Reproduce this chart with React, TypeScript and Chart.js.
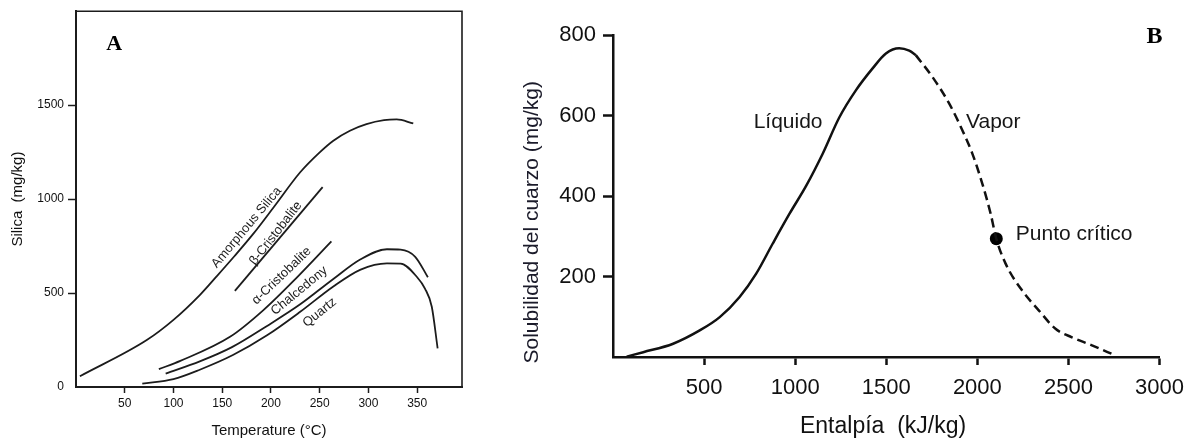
import React, { useEffect, useRef } from 'react';
import { Chart, registerables } from 'chart.js';

Chart.register(...registerables);

// ---------- Panel A data (Temperature °C vs Silica mg/kg) ----------
const tempTicks = [50, 100, 150, 200, 250, 300, 350];
const silicaTicks = [0, 500, 1000, 1500];

const amorphousT = [4, 73, 100, 127, 144, 162, 182, 203, 230, 250, 264, 281, 298, 316, 329, 346];
const amorphousSi = [57, 251, 357, 489, 587, 693, 816, 958, 1143, 1249, 1311, 1364, 1399, 1420, 1424, 1403];

const betaT = [163, 253];
const betaSi = [512, 1064];

const alphaT = [85, 107, 158, 192, 227, 262];
const alphaSi = [95, 139, 267, 408, 585, 775];

const chalcT = [92, 127, 160, 196, 230, 264, 292, 319, 333, 348, 361];
const chalcSi = [71, 136, 212, 325, 440, 575, 680, 733, 731, 693, 584];

const quartzT = [68, 100, 127, 161, 196, 230, 264, 292, 319, 333, 350, 358, 365, 371];
const quartzSi = [18, 42, 92, 170, 275, 400, 535, 625, 658, 657, 584, 524, 427, 206];

const curveNamesA = ['Amorphous Silica', 'β-Cristobalite', 'α-Cristobalite', 'Chalcedony', 'Quartz'];

// ---------- Panel B data (Enthalpy kJ/kg vs quartz solubility mg/kg) ----------
const enthalpyTicks = [500, 1000, 1500, 2000, 2500, 3000];
const solubilityTicks = [200, 400, 600, 800];

const liquidH = [75, 166, 330, 476, 586, 695, 786, 877, 969, 1060, 1151, 1242, 1334, 1425, 1498, 1571, 1626, 1662];
const liquidS = [1, 12, 33, 66, 99, 149, 207, 282, 356, 425, 505, 595, 663, 717, 754, 767, 761, 750];

const vaporH = [1662, 1753, 1845, 1917, 1972, 2027, 2073, 2104, 2155, 2246, 2337, 2429, 2519, 2629, 2757];
const vaporS = [750, 696, 630, 564, 506, 431, 356, 294, 232, 165, 116, 70, 49, 29, 4];

const criticalH = [2104];
const criticalS = [294];

// ---------- helpers ----------
const FONT = "'Liberation Sans', Arial, Helvetica, sans-serif";
const SERIF = "'Liberation Serif', 'Times New Roman', Times, serif";
const INK = '#1c1c1c';

const pts = (xs: number[], ys: number[]) => xs.map((x, i) => ({ x, y: ys[i] }));

const lineDs = (label: string, xs: number[], ys: number[], extra: any = {}) => ({
  label,
  data: pts(xs, ys),
  borderColor: INK,
  backgroundColor: INK,
  borderWidth: 1.8,
  pointRadius: 0,
  fill: false,
  cubicInterpolationMode: 'monotone',
  ...extra,
});

// annotation layout (kept separate from data)
const labelsA = [
  { t: 175, s: 849, angle: -50 },
  { t: 205, s: 818, angle: -52 },
  { t: 211, s: 592, angle: -44 },
  { t: 229, s: 512, angle: -39.5 },
  { t: 250, s: 396, angle: -38.7 },
];

const panelAnnotA = {
  id: 'panelAnnotA',
  afterDatasetsDraw(chart: any) {
    const { ctx, chartArea: ca, scales } = chart;
    const x = scales.x;
    const y = scales.y;
    ctx.save();
    // frame top & right
    ctx.strokeStyle = INK;
    ctx.lineWidth = 1.6;
    ctx.beginPath();
    ctx.moveTo(ca.left, ca.top);
    ctx.lineTo(ca.right, ca.top);
    ctx.lineTo(ca.right, ca.bottom);
    ctx.stroke();
    // curve labels
    ctx.fillStyle = INK;
    ctx.font = `13px ${FONT}`;
    ctx.textAlign = 'center';
    ctx.textBaseline = 'middle';
    labelsA.forEach((l, i) => {
      ctx.save();
      ctx.translate(x.getPixelForValue(l.t), y.getPixelForValue(l.s));
      ctx.rotate((l.angle * Math.PI) / 180);
      ctx.fillText(curveNamesA[i], 0, 0);
      ctx.restore();
    });
    // panel letter
    ctx.font = `bold 22px ${SERIF}`;
    ctx.textAlign = 'left';
    ctx.textBaseline = 'alphabetic';
    ctx.fillStyle = '#000';
    ctx.fillText('A', x.getPixelForValue(31), y.getPixelForValue(1796));
    ctx.restore();
  },
};

const panelAnnotB = {
  id: 'panelAnnotB',
  afterDatasetsDraw(chart: any) {
    const { ctx, scales } = chart;
    const x = scales.x;
    const y = scales.y;
    ctx.save();
    ctx.fillStyle = '#161616';
    ctx.font = `21px ${FONT}`;
    ctx.textAlign = 'left';
    ctx.textBaseline = 'alphabetic';
    ctx.fillText('Líquido', x.getPixelForValue(772), y.getPixelForValue(570));
    ctx.fillText('Vapor', x.getPixelForValue(1938), y.getPixelForValue(570));
    ctx.fillText('Punto crítico', x.getPixelForValue(2211), y.getPixelForValue(290));
    ctx.font = `bold 24px ${SERIF}`;
    ctx.fillStyle = '#000';
    ctx.fillText('B', x.getPixelForValue(2928), y.getPixelForValue(779));
    ctx.restore();
  },
};

const hideZeroTick = (c: any) => (c.tick && c.tick.value === 0 ? 'rgba(0,0,0,0)' : INK);

function configA(): any {
  return {
    type: 'line',
    data: {
      datasets: [
        lineDs(curveNamesA[0], amorphousT, amorphousSi),
        lineDs(curveNamesA[1], betaT, betaSi),
        lineDs(curveNamesA[2], alphaT, alphaSi),
        lineDs(curveNamesA[3], chalcT, chalcSi),
        lineDs(curveNamesA[4], quartzT, quartzSi),
      ],
    },
    options: {
      animation: false,
      responsive: false,
      devicePixelRatio: 1,
      layout: { padding: { top: 10, right: 18, left: 0, bottom: 0 } },
      plugins: { legend: { display: false }, tooltip: { enabled: false } },
      scales: {
        x: {
          type: 'linear',
          min: 0,
          max: 396,
          afterBuildTicks: (s: any) => {
            s.ticks = tempTicks.map((v) => ({ value: v }));
          },
          afterFit: (s: any) => {
            s.height = 54;
          },
          ticks: {
            autoSkip: false,
            maxRotation: 0,
            padding: 3,
            color: '#111',
            font: { family: FONT, size: 12 },
            callback: (v: any) => String(v),
          },
          grid: { drawOnChartArea: false, drawTicks: true, tickLength: 6, tickWidth: 1.5, tickColor: INK },
          border: { display: true, color: INK, width: 2 },
          title: {
            display: true,
            text: 'Temperature (°C)',
            color: '#111',
            font: { family: FONT, size: 15 },
            padding: { top: 0, bottom: 1 },
          },
        },
        y: {
          type: 'linear',
          min: 0,
          max: 2000,
          afterBuildTicks: (s: any) => {
            s.ticks = silicaTicks.map((v) => ({ value: v }));
          },
          afterFit: (s: any) => {
            s.width = 76;
          },
          ticks: {
            autoSkip: false,
            padding: 4,
            color: '#111',
            font: { family: FONT, size: 12 },
            callback: (v: any) => String(v),
          },
          grid: { drawOnChartArea: false, drawTicks: true, tickLength: 8, tickWidth: 1.5, tickColor: hideZeroTick },
          border: { display: true, color: INK, width: 2 },
          title: {
            display: true,
            text: 'Silica  (mg/kg)',
            color: '#111',
            font: { family: FONT, size: 15 },
            padding: { top: 9, bottom: 0 },
          },
        },
      },
    },
    plugins: [panelAnnotA],
  };
}

function configB(): any {
  return {
    type: 'line',
    data: {
      datasets: [
        lineDs('Líquido', liquidH, liquidS, { borderWidth: 2.5, borderColor: '#111' }),
        lineDs('Vapor', vaporH, vaporS, { borderWidth: 2.5, borderColor: '#111', borderDash: [9, 5] }),
        {
          label: 'Punto crítico',
          data: pts(criticalH, criticalS),
          showLine: false,
          pointRadius: 6.5,
          pointBackgroundColor: '#000',
          pointBorderColor: '#000',
          pointBorderWidth: 0,
        },
      ],
    },
    options: {
      animation: false,
      responsive: false,
      devicePixelRatio: 1,
      layout: { padding: { top: 35, right: 33, left: 0, bottom: 0 } },
      plugins: { legend: { display: false }, tooltip: { enabled: false } },
      scales: {
        x: {
          type: 'linear',
          min: 0,
          max: 3000,
          afterBuildTicks: (s: any) => {
            s.ticks = enthalpyTicks.map((v) => ({ value: v }));
          },
          afterFit: (s: any) => {
            s.height = 84;
          },
          ticks: {
            autoSkip: false,
            maxRotation: 0,
            padding: 10,
            color: '#111',
            font: { family: FONT, size: 22 },
            callback: (v: any) => String(v),
          },
          grid: { drawOnChartArea: false, drawTicks: true, tickLength: 8, tickWidth: 2.5, tickColor: '#111' },
          border: { display: true, color: '#111', width: 2.5 },
          title: {
            display: true,
            text: 'Entalpía  (kJ/kg) ',
            color: '#111',
            font: { family: FONT, size: 23 },
            padding: { top: 0, bottom: 1 },
          },
        },
        y: {
          type: 'linear',
          min: 0,
          max: 800,
          afterBuildTicks: (s: any) => {
            s.ticks = solubilityTicks.map((v) => ({ value: v }));
          },
          afterFit: (s: any) => {
            s.width = 143;
          },
          ticks: {
            autoSkip: false,
            padding: 7,
            color: '#111',
            font: { family: FONT, size: 22 },
            callback: (v: any) => String(v),
          },
          grid: { drawOnChartArea: false, drawTicks: true, tickLength: 10, tickWidth: 2.5, tickColor: '#111' },
          border: { display: true, color: '#111', width: 2.5 },
          title: {
            display: true,
            text: 'Solubilidad del cuarzo (mg/kg)         ',
            color: '#1b1b2a',
            font: { family: FONT, size: 21 },
            padding: { top: 50, bottom: 0 },
          },
        },
      },
    },
    plugins: [panelAnnotB],
  };
}

export default function App() {
  const refA = useRef<HTMLCanvasElement>(null);
  const refB = useRef<HTMLCanvasElement>(null);

  useEffect(() => {
    const a = new Chart(refA.current as HTMLCanvasElement, configA());
    const b = new Chart(refB.current as HTMLCanvasElement, configB());
    return () => {
      a.destroy();
      b.destroy();
    };
  }, []);

  return (
    <div
      style={{
        position: 'absolute',
        left: 0,
        top: 0,
        width: 1194,
        height: 441,
        background: '#fff',
        overflow: 'hidden',
      }}
    >
      <canvas
        ref={refA}
        width={480}
        height={441}
        style={{ position: 'absolute', left: 0, top: 0, width: 480, height: 441 }}
      />
      <canvas
        ref={refB}
        width={724}
        height={441}
        style={{ position: 'absolute', left: 470, top: 0, width: 724, height: 441 }}
      />
    </div>
  );
}
